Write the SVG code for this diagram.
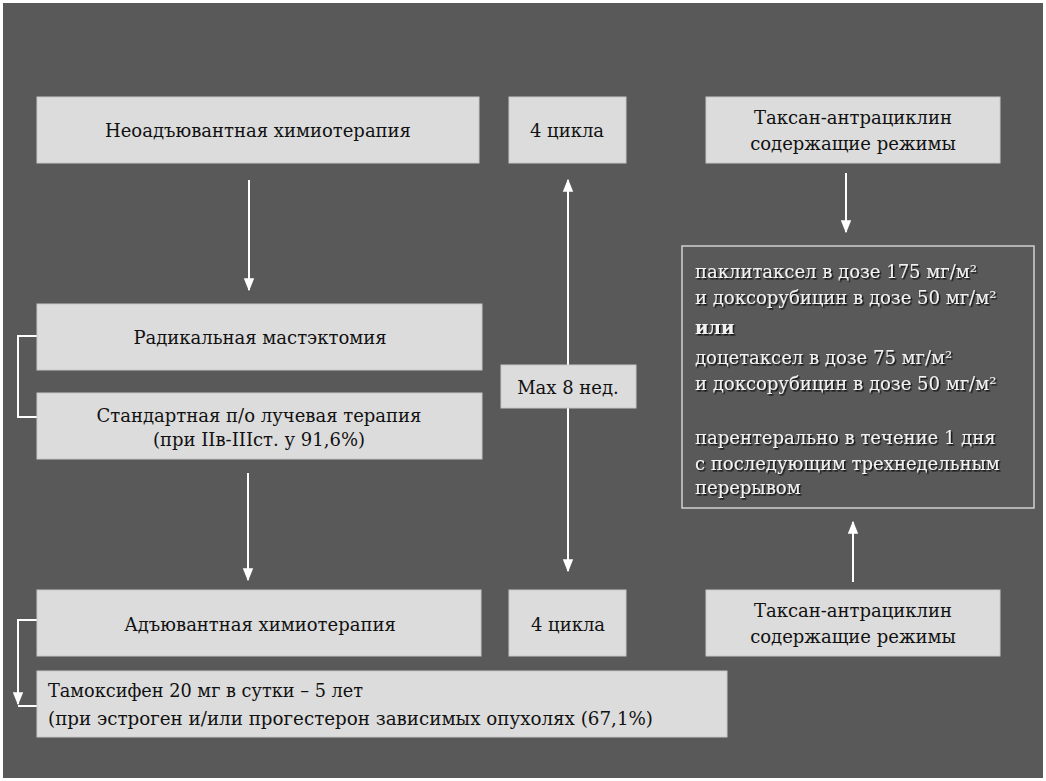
<svg xmlns="http://www.w3.org/2000/svg" width="1046" height="781" viewBox="0 0 1046 781">
<style>
.box{fill:#dcdcdc;stroke:#c8c8c8;stroke-width:1}
.t{font-family:"DejaVu Serif","Liberation Serif",serif;font-size:18px;fill:#111}
.c{text-anchor:middle}
.w{font-family:"DejaVu Serif","Liberation Serif",serif;font-size:18px;fill:#f2f2f2;filter:url(#sh)}
.n{font-family:"DejaVu Serif Condensed","DejaVu Serif",serif;font-size:19px;fill:#111}
.ln{stroke:#ffffff;stroke-width:2;fill:none}
</style>
<defs>
<filter id="sh" x="-5%" y="-20%" width="110%" height="150%">
<feDropShadow dx="1.5" dy="1.5" stdDeviation="0.6" flood-color="#000" flood-opacity="0.8"/>
</filter>
<marker id="ah2" viewBox="0 0 10 10" refX="9" refY="5" markerWidth="13" markerHeight="13" orient="auto-start-reverse" markerUnits="userSpaceOnUse">
<path d="M0,1 L10,5 L0,9 z" fill="#ffffff"/>
</marker>
</defs>
<rect x="0" y="0" width="1046" height="781" fill="#ffffff"/>
<rect x="3" y="3" width="1040" height="775" fill="#595959"/>

<g id="connectors">
<line class="ln" x1="249" y1="180" x2="249" y2="290" marker-end="url(#ah2)"/>
<line class="ln" x1="248" y1="473" x2="248" y2="580" marker-end="url(#ah2)"/>
<line class="ln" x1="568" y1="180" x2="568" y2="571" marker-start="url(#ah2)" marker-end="url(#ah2)"/>
<line class="ln" x1="846" y1="173" x2="846" y2="232" marker-end="url(#ah2)"/>
<line class="ln" x1="853" y1="582" x2="853" y2="522" marker-end="url(#ah2)"/>
<polyline class="ln" points="37,336 18,336 18,417 37,417"/>
<polyline class="ln" points="37,620 18,620 18,704" marker-end="url(#ah2)"/>
<line class="ln" x1="18" y1="706" x2="37" y2="706"/>
</g>

<g id="n-neoadj">
<rect class="box" x="37" y="97" width="442" height="66"/>
<text class="t c" x="258" y="137">Неоадъювантная химиотерапия</text>
</g>
<g id="n-4c-top">
<rect class="box" x="509" y="97" width="117" height="66"/>
<text class="t c" x="567" y="137">4 цикла</text>
</g>
<g id="n-taxan-top">
<rect class="box" x="706" y="97" width="294" height="66"/>
<text class="t c" x="853" y="124">Таксан-антрациклин</text>
<text class="t c" x="853" y="150">содержащие режимы</text>
</g>
<g id="n-mast">
<rect class="box" x="37" y="304" width="445" height="66"/>
<text class="t c" x="260" y="344">Радикальная мастэктомия</text>
</g>
<g id="n-ray">
<rect class="box" x="37" y="393" width="445" height="66"/>
<text class="t c" x="259" y="422">Стандартная п/о лучевая терапия</text>
<text class="t c" x="259" y="446">(при IIв-IIIст. у 91,6%)</text>
</g>
<g id="n-max8">
<rect class="box" x="501" y="365" width="135" height="43"/>
<text class="t c" x="568" y="394">Max 8 нед.</text>
</g>
<g id="n-regimen">
<rect x="682" y="246" width="352" height="262" fill="#595959" stroke="#d0d0d0" stroke-width="1.5"/>
<text class="w" x="695" y="278">паклитаксел в дозе 175 мг/м²</text>
<text class="w" x="695" y="304">и доксорубицин в дозе 50 мг/м²</text>
<text class="w" x="695" y="334" font-weight="bold">или</text>
<text class="w" x="695" y="364">доцетаксел в дозе 75 мг/м²</text>
<text class="w" x="695" y="390">и доксорубицин в дозе 50 мг/м²</text>
<text class="w" x="695" y="444">парентерально в течение 1 дня</text>
<text class="w" x="695" y="470">с последующим трехнедельным</text>
<text class="w" x="695" y="494">перерывом</text>
</g>
<g id="n-adj">
<rect class="box" x="37" y="590" width="444" height="66"/>
<text class="t c" x="260" y="631">Адъювантная химиотерапия</text>
</g>
<g id="n-4c-bot">
<rect class="box" x="509" y="590" width="117" height="66"/>
<text class="t c" x="568" y="631">4 цикла</text>
</g>
<g id="n-taxan-bot">
<rect class="box" x="706" y="590" width="294" height="66"/>
<text class="t c" x="853" y="617">Таксан-антрациклин</text>
<text class="t c" x="853" y="643">содержащие режимы</text>
</g>
<g id="n-tamox">
<rect class="box" x="37" y="671" width="690" height="66"/>
<text class="n" x="48" y="697" textLength="315" lengthAdjust="spacingAndGlyphs">Тамоксифен 20 мг в сутки – 5 лет</text>
<text class="n" x="48" y="725" textLength="605" lengthAdjust="spacingAndGlyphs">(при эстроген и/или прогестерон зависимых опухолях (67,1%)</text>
</g>
</svg>
